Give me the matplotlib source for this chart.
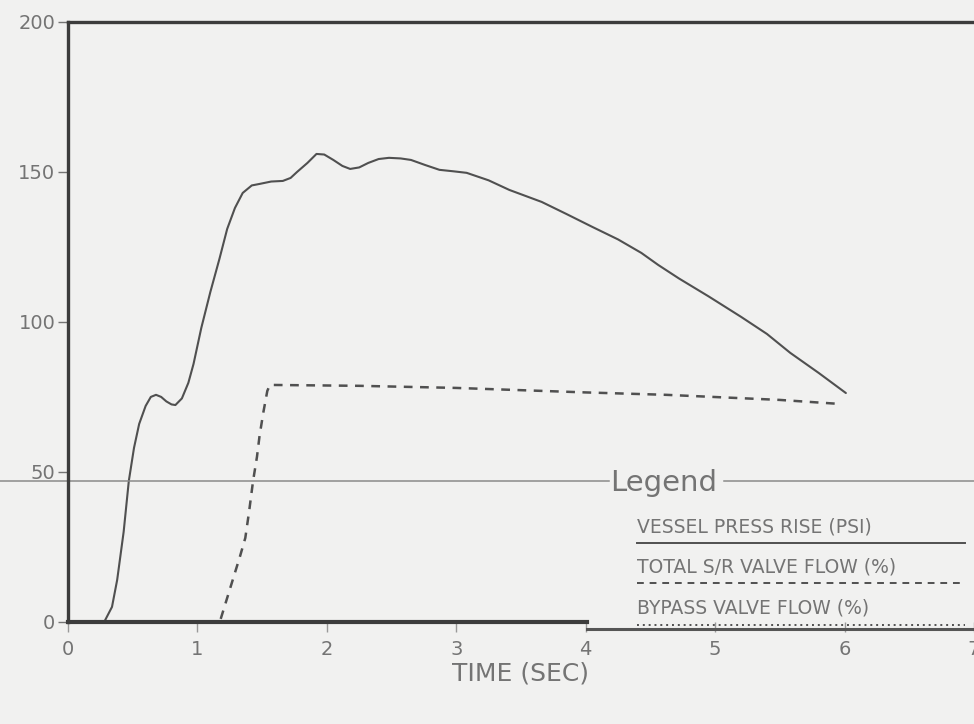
import matplotlib.pyplot as plt
from matplotlib.lines import Line2D

# vessel pressure rise (psi) vs time (sec)
press_t = [0.28, 0.34, 0.38, 0.43, 0.47, 0.51, 0.55, 0.60, 0.64, 0.68, 0.72,
           0.76, 0.80, 0.83, 0.88, 0.93, 0.97, 1.03, 1.10, 1.17, 1.23, 1.29,
           1.35, 1.42, 1.48, 1.57, 1.66, 1.72, 1.77, 1.85, 1.92, 1.98, 2.05,
           2.12, 2.18, 2.25, 2.32, 2.40, 2.48, 2.57, 2.65, 2.76, 2.87, 2.98,
           3.08, 3.25, 3.41, 3.66, 3.85, 4.05, 4.25, 4.43, 4.56, 4.72, 4.95,
           5.20, 5.40, 5.58, 5.80, 6.01]
press = [0, 5, 14, 30, 47, 58, 66, 72, 75, 75.7, 75, 73.5, 72.5, 72.3, 74.5,
         79.7, 86, 98, 110, 121, 131, 138, 143, 145.5, 146, 146.8, 147, 148,
         150, 153, 156, 155.8, 154, 152, 151, 151.5, 153, 154.3, 154.7, 154.5,
         154, 152.3, 150.7, 150.2, 149.7, 147.2, 144, 140, 136, 131.7, 127.5,
         123, 119, 114.5, 108.5, 101.7, 96, 89.7, 83, 76.3]

# total S/R valve flow (%) vs time (sec)
flow_t = [1.18, 1.23, 1.28, 1.33, 1.37, 1.40, 1.43, 1.46, 1.48, 1.51, 1.54,
          1.56, 2.25, 3.0, 4.0, 4.62, 5.5, 5.95]
flow = [1, 8, 15, 22, 28, 37, 47, 55, 62, 70, 77, 79, 78.7, 78, 76.5, 75.7,
        74, 72.7]

legend_labels = ["VESSEL PRESS RISE (PSI)", "TOTAL S/R VALVE FLOW (%)",
                 "BYPASS VALVE FLOW (%)"]
legend_styles = ["-", (0, (3.5, 3)), (0, (1, 2))]

yticks = [0, 50, 100, 150, 200]
xticks = [0, 1, 2, 3, 4, 5, 6, 7]

ink = "#505050"
pale = "#747474"
paper = "#f1f1f0"

fig = plt.figure(figsize=(9.74, 7.24), dpi=100, facecolor=paper)
ax = fig.add_axes([0.0698, 0.141, 0.9302, 0.8287], facecolor=paper)

ax.plot(press_t, press, color=ink, lw=1.5, solid_capstyle="round")
ax.plot(flow_t, flow, color=ink, lw=1.8, linestyle=(0, (3.5, 3)))

ax.set_xlim(0, 6.98)
ax.set_ylim(0, 200)

for side in ["right", "bottom"]:
    ax.spines[side].set_visible(False)
for side in ["left", "top"]:
    ax.spines[side].set_linewidth(2.4)
    ax.spines[side].set_color("#3c3c3c")

# baseline: heavy up to 4 s, lighter beyond
ax.axhline(0, xmin=0, xmax=4 / 6.98, color="#3c3c3c", lw=3.0, clip_on=False)
ax.axhline(-2.2, xmin=4 / 6.98, xmax=1, color="#555555", lw=2.2, clip_on=False)

ax.set_yticks(yticks)
ax.set_xticks(xticks)
ax.tick_params(axis="y", length=7, width=1.0, color=pale, labelcolor=pale,
               labelsize=14, pad=2)
ax.tick_params(axis="x", length=7, width=1.0, color="#999999",
               labelcolor=pale, labelsize=14, pad=6)
ax.set_xlabel("TIME (SEC)", fontsize=18, color=pale, labelpad=2)

# faint rule running across at the legend header
ax.axhline(47, xmin=-0.075, xmax=0.597, color="#8a8a8a", lw=1.1, clip_on=False)
ax.axhline(47, xmin=0.724, xmax=1.0, color="#8a8a8a", lw=1.1, clip_on=False)
ax.text(0.598, 0.232, "Legend", transform=ax.transAxes, fontsize=21,
        color=pale, va="center", ha="left")

text_y = [0.158, 0.092, 0.023]
line_y = [0.132, 0.065, -0.005]
for lab, sty, ty, ly in zip(legend_labels, legend_styles, text_y, line_y):
    ax.text(0.628, ty, lab, transform=ax.transAxes, fontsize=13.5,
            color=pale, va="center", ha="left")
    ax.add_line(Line2D([0.628, 0.99], [ly, ly], transform=ax.transAxes,
                       color=ink, lw=1.4, linestyle=sty, clip_on=False))

fig.savefig("out.png", dpi=100, facecolor=paper)
